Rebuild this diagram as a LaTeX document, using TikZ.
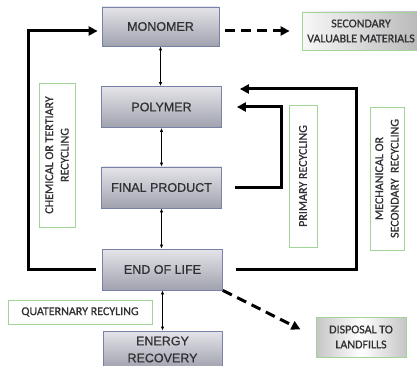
\documentclass[tikz,border=0pt]{standalone}
\usepackage{fontspec}
\setmainfont{Liberation Sans}[FakeBold=0.7]
\newfontfamily\labelfont{Carlito}[FakeBold=0.7]
\usetikzlibrary{arrows.meta}
\definecolor{boxtop}{RGB}{228,228,233}
\definecolor{boxbot}{RGB}{160,162,174}
\definecolor{boxedge}{RGB}{120,130,168}
\definecolor{lblgreen}{RGB}{162,212,152}
\definecolor{txtgray}{RGB}{48,48,52}

\begin{document}
\begin{tikzpicture}[x=1pt,y=-1pt,
  stage/.style={draw=boxedge, line width=0.8pt, top color=boxtop, bottom color=boxbot,
    minimum width=120pt, minimum height=41pt, inner sep=0pt, align=center,
    text=txtgray, font=\fontsize{12.5}{17}\selectfont},
  tag/.style={draw=lblgreen, line width=0.8pt, fill=white, inner sep=0pt, align=center,
    text=txtgray, font=\labelfont\fontsize{12}{15.5}\selectfont},
  outcome/.style={draw=lblgreen, line width=0.8pt, inner sep=0pt, align=center,
    text=txtgray, font=\labelfont\fontsize{12}{15}\selectfont},
  link/.style={line width=1pt, {Latex[length=4pt,width=3.5pt]}-{Latex[length=4pt,width=3.5pt]}},
  ret/.style={line width=3pt, -{Triangle[length=9pt,width=9pt]}},
  flow/.style={line width=3pt, dash pattern=on 10pt off 6pt, -{Triangle[length=9pt,width=9pt]}},
]
\useasboundingbox (0,0) rectangle (417,366);

% life-cycle stages
\node[stage, minimum width=117pt, minimum height=39pt] (mono) at (160.5,26.5) {MONOMER};
\node[stage] (poly) at (161.5,107) {POLYMER};
\node[stage] (final) at (161.5,187.5) {FINAL PRODUCT};
\node[stage] (eol) at (162.5,269.5) {END OF LIFE};
\node[stage, minimum width=119pt, minimum height=37pt] (energy) at (162.5,349.5) {ENERGY\\RECOVERY};

% side outcomes
\node[outcome, left color=gray!6, right color=gray!55, minimum width=118pt, minimum height=38pt]
  (sec) at (361,31) {SECONDARY\\VALUABLE MATERIALS};
\node[outcome, left color=gray!45, right color=gray!45, middle color=white,
  minimum width=90pt, minimum height=40pt] (disp) at (361,337) {DISPOSAL TO\\LANDFILLS};

% recycling labels
\node[tag, rotate=90, minimum width=144pt, minimum height=36pt] (chem) at (57,155)
  {CHEMICAL OR TERTIARY\\RECYCLING};
\node[tag, rotate=90, minimum width=142pt, minimum height=28pt] (prim) at (303,176)
  {PRIMARY RECYCLING};
\node[tag, rotate=90, minimum width=143pt, minimum height=34pt] (mech) at (387,178.5)
  {MECHANICAL OR\\SECONDARY\ \ RECYCLING};
\node[tag, minimum width=144pt, minimum height=24pt] (quat) at (80,312)
  {QUATERNARY RECYLING};

% main chain
\draw[link] (mono.south) -- (mono.south |- poly.north);
\draw[link] (poly.south) -- (final.north);
\draw[link] (final.south) -- (final.south |- eol.north);
\draw[link] (eol.south) -- (energy.north);

% recycling loops
\coordinate (cx) at (28,0);
\coordinate (monoin) at ([yshift=-4.5pt]mono.west);
\draw[ret, shorten <=6pt, shorten >=4pt]
  (eol.west) -- (eol.west -| cx) -- (cx |- monoin) -- (monoin);

\coordinate (px) at (281,0);
\draw[ret, shorten <=13pt, shorten >=15pt]
  (final.east) -- (final.east -| px) -- (px |- poly.east) -- (poly.east);

\coordinate (mx) at (356,0);
\coordinate (polyin) at ([yshift=18pt]poly.east);
\draw[ret, shorten <=13pt, shorten >=18pt]
  (eol.east) -- (eol.east -| mx) -- (mx |- polyin) -- (polyin);

% dashed outputs
\draw[flow, shorten <=6pt, shorten >=12pt] (mono.east |- sec.west) -- (sec.west);
\draw[flow, shorten >=17pt] (eol.south east) -- (disp.west);
\end{tikzpicture}
\end{document}
